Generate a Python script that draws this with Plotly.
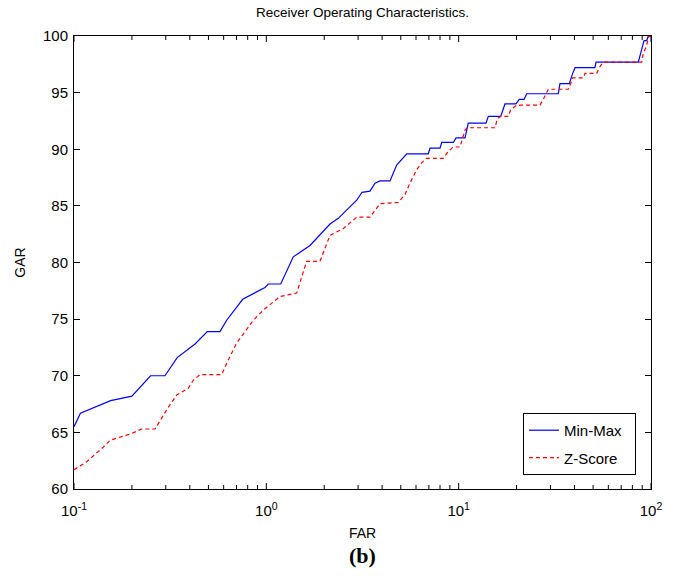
import plotly.graph_objects as go

# Min-Max curve (FAR %, GAR %)
minmax_far = [0.1, 0.108, 0.155, 0.2, 0.25, 0.297, 0.344, 0.426, 0.493, 0.574, 0.622, 0.7535,
              0.984, 1.024, 1.188, 1.381, 1.687, 2.143, 2.367, 2.951, 3.144, 3.459, 3.673, 3.9,
              4.395, 4.76, 5.37, 6.95, 7.10, 8.0, 8.16, 9.38, 9.69, 10.79, 11.22, 13.87, 14.26,
              16.54, 17.41, 19.87, 20.66, 21.87, 22.58, 32.96, 33.63, 37.59, 39.17, 40.27, 51.1,
              51.8, 85.9, 88.4, 91.97, 94.98, 96.8, 100]
minmax_gar = [65.5, 66.7, 67.8, 68.2, 70.0, 70.0, 71.6, 72.8, 73.9, 73.9, 74.9, 76.75,
              77.8, 78.1, 78.1, 80.5, 81.5, 83.4, 83.9, 85.5, 86.2, 86.3, 87.0, 87.2,
              87.2, 88.6, 89.6, 89.6, 90.1, 90.1, 90.6, 90.6, 91.0, 91.0, 92.3, 92.3, 92.9,
              92.9, 94.0, 94.0, 94.4, 94.4, 94.9, 94.9, 95.8, 95.8, 96.7, 97.2, 97.2,
              97.7, 97.7, 98.6, 99.6, 99.6, 100, 100]

# Z-Score curve (FAR %, GAR %)
zscore_far = [0.1, 0.1164, 0.142, 0.1539, 0.1996, 0.2249, 0.2637, 0.3034, 0.342, 0.393, 0.417,
              0.452, 0.586, 0.622, 0.702, 0.856, 0.964, 1.178, 1.438, 1.62, 1.90, 2.143, 2.514,
              2.951, 3.459, 3.9, 4.85, 5.26, 5.58, 6.05, 6.42, 6.82, 8.32, 8.83, 9.38, 10.16,
              10.79, 11.09, 15.45, 15.88, 16.54, 18.12, 18.65, 20.03, 26.48, 27.54, 29.24, 37.15,
              38.23, 39.17, 44.46, 45.4, 52.2, 54.3, 56.5, 89.5, 91.2, 94.2, 97.6, 100]
zscore_gar = [61.7, 62.4, 63.7, 64.3, 64.9, 65.3, 65.3, 67.0, 68.3, 68.9, 69.6,
              70.1, 70.1, 71.1, 72.9, 74.9, 75.8, 77.0, 77.3, 80.1, 80.1, 82.4, 83.0,
              84.0, 84.0, 85.2, 85.3, 86.0, 87.0, 88.2, 88.8, 89.2, 89.2, 89.8, 90.2, 90.2,
              91.7, 91.9, 91.9, 92.7, 92.9, 92.9, 93.5, 93.9, 93.9, 94.4, 95.3, 95.3,
              95.8, 96.3, 96.3, 96.7, 96.7, 97.3, 97.7, 97.7, 98.5, 99.0, 100, 100]

x_tickvals = [0.1, 1, 10, 100]
x_ticktext = ["10<sup>-1</sup>", "10<sup>0</sup>", "10<sup>1</sup>", "10<sup>2</sup>"]
x_minor_tickvals = [m * d for d in (0.1, 1, 10) for m in range(2, 10)]
y_tickvals = [60, 65, 70, 75, 80, 85, 90, 95, 100]

FONT = "Liberation Sans, Arial, sans-serif"
PLOT_H = 576 - 36 - 87  # plot-area height in px

fig = go.Figure()
fig.add_trace(go.Scatter(x=minmax_far, y=minmax_gar, mode="lines", name="Min-Max  ",
                         legendgroup="a",
                         line=dict(color="#0000ff", width=1.2)))
fig.add_trace(go.Scatter(x=zscore_far, y=zscore_gar, mode="lines", name="Z-Score",
                         legendgroup="b",
                         line=dict(color="#ff0000", width=1.2, dash="4px,3px")))

fig.update_layout(
    width=678, height=576,
    margin=dict(l=74, r=27, t=36, b=87),
    paper_bgcolor="white", plot_bgcolor="white",
    font=dict(family=FONT, size=13, color="#000000"),
    title=dict(text="Receiver Operating Characteristics.", x=(74 + 651) / 2 / 678,
               xanchor="center", y=1 - 12 / 576, yanchor="middle", yref="container",
               font=dict(size=13.5, color="#000000")),
    showlegend=True,
    legend=dict(x=0.974, xanchor="right", y=0.031, yanchor="bottom",
                bordercolor="#000000", borderwidth=1, bgcolor="white",
                font=dict(size=15), tracegroupgap=5, traceorder="grouped"),
    xaxis=dict(type="log", range=[-1, 2], tickmode="array",
               tickvals=x_tickvals, ticktext=x_ticktext, ticks="",
               showline=True, linecolor="black", linewidth=1, mirror=True,
               showgrid=False, zeroline=False, ticklabelstandoff=8,
               tickfont=dict(size=15, color="#000000"),
               title=dict(text="FAR", font=dict(size=14), standoff=10)),
    yaxis=dict(range=[60, 100], tickvals=y_tickvals,
               ticks="inside", ticklen=6, tickcolor="black", tickwidth=1,
               showline=True, linecolor="black", linewidth=1, mirror="ticks",
               showgrid=False, zeroline=False, ticklabelstandoff=2,
               tickfont=dict(size=15, color="#000000"),
               title=dict(text="GAR", font=dict(size=14), standoff=14)),
)

# inward tick marks on the bottom and top of the log x axis (placed via the x-axis scale)
for vals, length in ((x_tickvals, 6), (x_minor_tickvals, 4)):
    frac = length / PLOT_H
    for v in vals:
        fig.add_shape(type="line", xref="x", yref="paper", x0=v, x1=v, y0=0, y1=frac,
                      line=dict(color="black", width=1), layer="above")
        fig.add_shape(type="line", xref="x", yref="paper", x0=v, x1=v, y0=1 - frac, y1=1,
                      line=dict(color="black", width=1), layer="above")

fig.add_annotation(text="<b>(b)</b>", xref="paper", yref="paper", x=0.5, y=-(555 - 489) / 453,
                   xanchor="center", yanchor="middle", showarrow=False,
                   font=dict(family="Liberation Serif, Times New Roman, serif", size=22, color="#000000"))

fig.write_html("out.html")
